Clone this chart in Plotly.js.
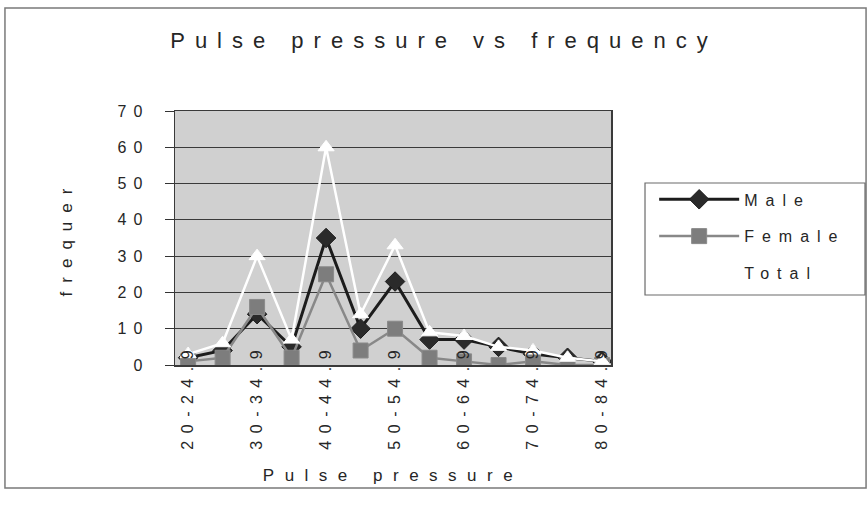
<!DOCTYPE html>
<html>
<head>
<meta charset="utf-8">
<script src="https://cdn.plot.ly/plotly-3.0.1.min.js"></script>
<style>
  html, body { margin: 0; padding: 0; background: #ffffff; }
  #chart { width: 867px; height: 516px; }
  .gtitle { letter-spacing: 10px; }
  .xtick text { letter-spacing: 7.5px; }
  .ytick text { letter-spacing: 7px; }
  text.xtitle { letter-spacing: 10.5px; }
  text.ytitle { letter-spacing: 9px; }
  g[class^="legend"] text { letter-spacing: 8px; }
  g[class^="legend"] .scrollbox, g[class^="legend"] g, g[class^="legend"] { clip-path: none !important; }
</style>
</head>
<body>
<div id="chart"></div>
<script>
// ---- data ----
var categories = ["20-24.9", "25-29.9", "30-34.9", "35-39.9", "40-44.9", "45-49.9",
                  "50-54.9", "55-59.9", "60-64.9", "65-69.9", "70-74.9", "75-79.9", "80-84.9"];
var male   = [2, 4, 14, 5, 35, 10, 23, 7, 7, 5, 3, 2, 1];
var female = [1, 2, 16, 2, 25, 4, 10, 2, 1, 0, 1, 0, 0];
var total  = [3, 6, 30, 7, 60, 14, 33, 9, 8, 5, 4, 2, 1];
var seriesNames = ["Male", "Female", "Total"];
var yTicks = [0, 10, 20, 30, 40, 50, 60, 70];
var shownTicks = categories.filter(function (c, i) { return i % 2 === 0; });

var FONT = "Liberation Sans, Arial, sans-serif";
var TXT = "#262626";

var traces = [
  {
    x: categories, y: male, name: seriesNames[0], type: "scatter", mode: "lines+markers",
    line: { color: "#1c1c1c", width: 3 },
    marker: { symbol: "diamond", size: 15, color: "#2a2a2a", line: { color: "#1c1c1c", width: 1 } },
    legend: "legend"
  },
  {
    x: categories, y: female, name: seriesNames[1], type: "scatter", mode: "lines+markers",
    line: { color: "#888888", width: 2.5 },
    marker: { symbol: "square", size: 15, color: "#7d7d7d", line: { color: "#8a8a8a", width: 1 } },
    legend: "legend2"
  },
  {
    x: categories, y: total, name: seriesNames[2], type: "scatter", mode: "lines+markers",
    line: { color: "#ffffff", width: 2.5 },
    marker: { symbol: "triangle-up", size: 14, color: "#ffffff", line: { color: "#ffffff", width: 1 } },
    legend: "legend3"
  }
];

var legendBase = {
  xref: "paper", yref: "paper", xanchor: "left", yanchor: "middle",
  bgcolor: "rgba(0,0,0,0)", borderwidth: 0,
  font: { family: FONT, size: 16, color: TXT },
  itemwidth: 80
};
function leg(y) { var o = Object.assign({}, legendBase); o.x = 1.099; o.y = y; return o; }

var layout = {
  width: 867, height: 516,
  paper_bgcolor: "#ffffff",
  plot_bgcolor: "#d0d0d0",
  margin: { l: 175, r: 256, t: 111, b: 151, pad: 0 },
  showlegend: true,
  title: {
    text: "Pulse pressure vs frequency",
    font: { family: FONT, size: 22, color: TXT },
    xref: "container", yref: "container",
    x: 444 / 867, xanchor: "center",
    y: 1 - 40 / 516, yanchor: "middle"
  },
  xaxis: {
    type: "category",
    categoryorder: "array", categoryarray: categories,
    range: [-0.38, 12.26],
    tickmode: "array", tickvals: shownTicks, ticktext: shownTicks,
    tickangle: -90,
    ticks: "",
    ticklabelstandoff: -30,
    tickfont: { family: FONT, size: 16, color: TXT },
    showgrid: false, zeroline: false,
    showline: true, linecolor: "#3a3a3a", linewidth: 1.5, mirror: true,
    automargin: false,
    title: { text: "Pulse pressure", font: { family: FONT, size: 17, color: TXT }, standoff: 20 }
  },
  yaxis: {
    range: [0, 70],
    tickmode: "array", tickvals: yTicks,
    ticks: "outside", ticklen: 9, tickcolor: "#333333", tickwidth: 1,
    ticklabelstandoff: 12,
    tickfont: { family: FONT, size: 16, color: TXT },
    showgrid: true, gridcolor: "#3a3a3a", gridwidth: 1.2,
    zeroline: false,
    showline: true, linecolor: "#3a3a3a", linewidth: 1.5, mirror: true,
    automargin: false,
    title: { text: "frequer", font: { family: FONT, size: 17, color: TXT }, standoff: 40 }
  },
  legend: leg(0.652),
  legend2: leg(0.507),
  legend3: leg(0.364),
  shapes: [
    { type: "rect", xref: "paper", yref: "paper", x0: -0.39, x1: 1.585, y0: -0.484, y1: 1.4055,
      line: { color: "#7a7a7a", width: 1.5 }, fillcolor: "rgba(0,0,0,0)", layer: "below" },
    { type: "rect", xref: "paper", yref: "paper", x0: 1.078, x1: 1.5826, y0: 0.2756, y1: 0.7165,
      line: { color: "#6a6a6a", width: 1.2 }, fillcolor: "rgba(0,0,0,0)", layer: "above" }
  ]
};

Plotly.newPlot("chart", traces, layout, { displayModeBar: false, staticPlot: true });
</script>
</body>
</html>
